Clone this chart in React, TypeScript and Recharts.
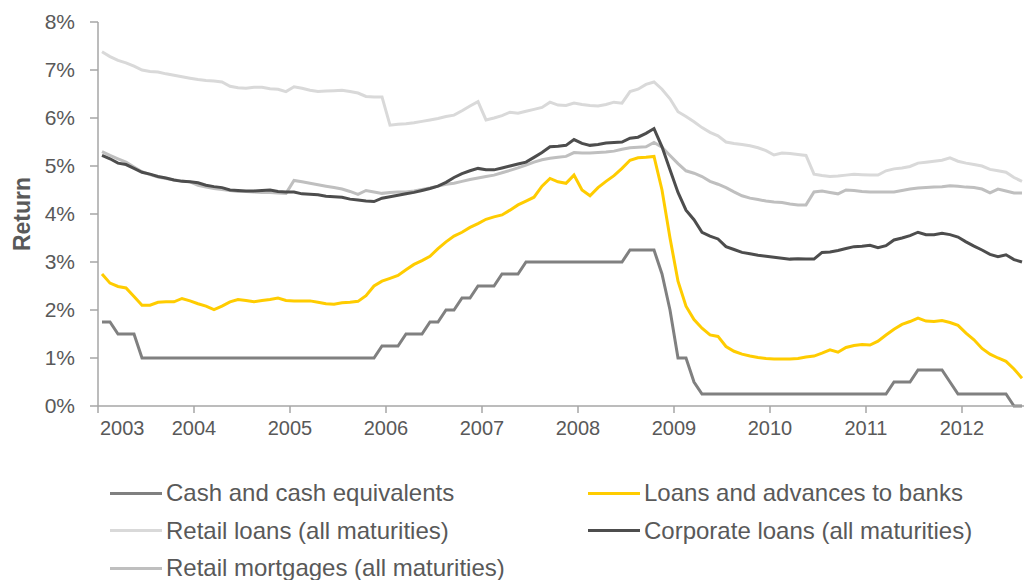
import React from 'react';
import { LineChart, Line, XAxis, YAxis, Legend } from 'recharts';

const FONT = '"Liberation Sans", Arial, sans-serif';
const TEXT = '#595959';
const AXIS = '#A6A6A6';

const years = ['2003', '2004', '2005', '2006', '2007', '2008', '2009', '2010', '2011', '2012'];
const yTicks = [0, 1, 2, 3, 4, 5, 6, 7, 8];

// Monthly returns (%), Jan 2003 - Aug 2012
const cash = [
  1.75, 1.75, 1.5, 1.5, 1.5, 1, 1, 1, 1, 1, 1, 1,
  1, 1, 1, 1, 1, 1, 1, 1, 1, 1, 1, 1,
  1, 1, 1, 1, 1, 1, 1, 1, 1, 1, 1, 1.25,
  1.25, 1.25, 1.5, 1.5, 1.5, 1.75, 1.75, 2, 2, 2.25, 2.25, 2.5,
  2.5, 2.5, 2.75, 2.75, 2.75, 3, 3, 3, 3, 3, 3, 3,
  3, 3, 3, 3, 3, 3, 3.25, 3.25, 3.25, 3.25, 2.75, 2,
  1, 1, 0.5, 0.25, 0.25, 0.25, 0.25, 0.25, 0.25, 0.25, 0.25, 0.25,
  0.25, 0.25, 0.25, 0.25, 0.25, 0.25, 0.25, 0.25, 0.25, 0.25, 0.25, 0.25,
  0.25, 0.25, 0.25, 0.5, 0.5, 0.5, 0.75, 0.75, 0.75, 0.75, 0.5, 0.25,
  0.25, 0.25, 0.25, 0.25, 0.25, 0.25, 0, 0,
];

const loansToBanks = [
  2.75, 2.56, 2.49, 2.46, 2.28, 2.1, 2.1, 2.16, 2.17, 2.17, 2.24, 2.19,
  2.13, 2.08, 2.01, 2.08, 2.17, 2.22, 2.2, 2.17, 2.2, 2.22, 2.25, 2.2,
  2.19, 2.19, 2.19, 2.16, 2.13, 2.12, 2.15, 2.16, 2.18, 2.3, 2.5, 2.6,
  2.66, 2.72, 2.84, 2.95, 3.03, 3.12, 3.28, 3.42, 3.54, 3.62, 3.72, 3.8,
  3.89, 3.94, 3.98, 4.08, 4.19, 4.27, 4.35, 4.58, 4.74, 4.67, 4.64, 4.81,
  4.5, 4.38, 4.55, 4.68, 4.8, 4.95, 5.12, 5.17, 5.18, 5.2, 4.5, 3.5,
  2.6, 2.08, 1.8, 1.62, 1.48, 1.45, 1.24, 1.14, 1.08, 1.04, 1.01, 0.99,
  0.98, 0.98, 0.98, 0.99, 1.02, 1.04, 1.1, 1.17, 1.12, 1.22, 1.26, 1.28,
  1.27, 1.35, 1.48, 1.6, 1.7, 1.76, 1.83, 1.77, 1.76, 1.78, 1.74, 1.68,
  1.52, 1.38, 1.2, 1.08, 1.0, 0.93, 0.77, 0.58,
];

const retailLoans = [
  7.38, 7.28, 7.2, 7.15, 7.08, 7.0, 6.97, 6.96, 6.92, 6.89, 6.86, 6.83,
  6.8, 6.78, 6.77, 6.75, 6.66, 6.63, 6.62, 6.64, 6.64, 6.61, 6.6, 6.55,
  6.65, 6.62, 6.58, 6.55, 6.56, 6.57, 6.58, 6.55, 6.52, 6.45, 6.44, 6.44,
  5.85, 5.87, 5.88, 5.9, 5.93, 5.96, 5.99, 6.03, 6.06, 6.15, 6.25, 6.34,
  5.96, 6.0, 6.05, 6.12, 6.1, 6.14, 6.18, 6.22, 6.33, 6.27, 6.26, 6.31,
  6.28, 6.26, 6.25, 6.28, 6.33, 6.31, 6.55, 6.6, 6.7, 6.75, 6.6, 6.4,
  6.13, 6.03, 5.92, 5.8, 5.7, 5.63, 5.5, 5.47, 5.45, 5.42, 5.38, 5.32,
  5.23, 5.27, 5.26, 5.24, 5.22, 4.83, 4.8, 4.78, 4.79, 4.81, 4.83, 4.82,
  4.81, 4.81, 4.9, 4.94, 4.96, 4.99, 5.06, 5.08, 5.1, 5.12, 5.17, 5.1,
  5.06, 5.03, 5.0, 4.93, 4.9, 4.87, 4.76, 4.68,
];

const corporateLoans = [
  5.22, 5.15, 5.06, 5.03, 4.95, 4.87, 4.83, 4.78, 4.75, 4.71, 4.68, 4.67,
  4.65, 4.6, 4.57, 4.55, 4.5, 4.49, 4.48, 4.48, 4.49, 4.5, 4.47, 4.46,
  4.46, 4.42, 4.41, 4.4, 4.37, 4.36, 4.35, 4.31, 4.29, 4.27, 4.26, 4.33,
  4.36, 4.39, 4.42, 4.45, 4.49, 4.53, 4.58, 4.66, 4.76, 4.84, 4.9, 4.95,
  4.92, 4.92, 4.96, 5.0, 5.04, 5.08, 5.18, 5.28, 5.4, 5.41, 5.43, 5.55,
  5.47, 5.43, 5.45, 5.48, 5.49, 5.5, 5.58, 5.6, 5.68, 5.78, 5.4, 4.92,
  4.45, 4.08, 3.88, 3.62, 3.54, 3.48, 3.32, 3.26, 3.2, 3.17, 3.14, 3.12,
  3.1, 3.08, 3.06, 3.07, 3.06, 3.06, 3.2, 3.21, 3.24, 3.28, 3.32, 3.33,
  3.35, 3.3, 3.34, 3.46, 3.5, 3.55, 3.62, 3.57, 3.57, 3.6, 3.57, 3.52,
  3.42, 3.33, 3.25, 3.16, 3.11, 3.15, 3.05, 3.0,
];

const retailMortgages = [
  5.3, 5.22, 5.15, 5.08, 4.98, 4.88, 4.82, 4.77, 4.74, 4.71, 4.69, 4.67,
  4.6, 4.56, 4.53, 4.51, 4.49, 4.47, 4.47, 4.46, 4.45, 4.45, 4.44, 4.43,
  4.7, 4.67, 4.64, 4.61, 4.58, 4.55, 4.52, 4.47, 4.41, 4.49, 4.46, 4.43,
  4.45, 4.46, 4.46, 4.48, 4.51, 4.54, 4.58, 4.62, 4.64, 4.68, 4.72, 4.75,
  4.78, 4.81, 4.86, 4.91, 4.96, 5.02, 5.08, 5.13, 5.16, 5.18, 5.2, 5.28,
  5.27, 5.27, 5.28, 5.29, 5.31, 5.35, 5.38, 5.39, 5.4, 5.49, 5.39, 5.22,
  5.05, 4.9, 4.85, 4.78, 4.68, 4.62, 4.55, 4.46, 4.38, 4.33, 4.3, 4.27,
  4.25, 4.24, 4.21, 4.19, 4.19, 4.46, 4.48, 4.45, 4.42, 4.5, 4.49, 4.47,
  4.46, 4.46, 4.46, 4.46, 4.49, 4.52, 4.54, 4.55, 4.56, 4.57, 4.59, 4.58,
  4.56, 4.55, 4.52, 4.44, 4.52, 4.48, 4.44, 4.44,
];

const legendSeries = [
  { key: 'cash', name: 'Cash and cash equivalents', color: '#808080' },
  { key: 'banks', name: 'Loans and advances to banks', color: '#FFCC00' },
  { key: 'retail', name: 'Retail loans (all maturities)', color: '#D9D9D9' },
  { key: 'corporate', name: 'Corporate loans (all maturities)', color: '#4D4D4D' },
  { key: 'mortgages', name: 'Retail mortgages (all maturities)', color: '#BFBFBF' },
];

const drawOrder = ['retail', 'mortgages', 'corporate', 'banks', 'cash'];

const data = cash.map((_, i) => ({
  m: i,
  cash: cash[i],
  banks: loansToBanks[i],
  retail: retailLoans[i],
  corporate: corporateLoans[i],
  mortgages: retailMortgages[i],
}));

const xTicks = years.map((_, k) => k * 12 - 0.5);

const XTick = (props: any) => {
  const { x, y, index } = props;
  const first = index === 0;
  return (
    <text
      x={first ? x + 2 : x}
      y={y}
      dy="0.71em"
      textAnchor={first ? 'start' : 'middle'}
      fill={TEXT}
      fontSize={20}
      fontFamily={FONT}
    >
      {years[index]}
    </text>
  );
};

const ReturnLabel = (props: any) => {
  const vb = props.viewBox || { x: 0, y: 22, width: 98, height: 384 };
  const cx = vb.x + 22;
  const cy = vb.y + vb.height / 2;
  return (
    <text
      x={cx}
      y={cy}
      transform={`rotate(-90 ${cx} ${cy})`}
      textAnchor="middle"
      dominantBaseline="central"
      fill={TEXT}
      fontSize={23}
      fontWeight="bold"
      fontFamily={FONT}
    >
      Return
    </text>
  );
};

const renderLegend = () => (
  <div style={{ position: 'relative', width: 1024, height: 110, fontFamily: FONT, fontSize: 24, color: TEXT }}>
    {legendSeries.map((s, k) => {
      const col = k % 2;
      const row = Math.floor(k / 2);
      return (
        <div
          key={s.key}
          style={{
            position: 'absolute',
            left: col ? 588 : 110,
            top: row * 37.5,
            height: 30,
            display: 'flex',
            alignItems: 'center',
            whiteSpace: 'nowrap',
          }}
        >
          <span style={{ display: 'inline-block', width: 52, height: 3, background: s.color, marginRight: 4 }} />
          <span>{s.name}</span>
        </div>
      );
    })}
  </div>
);

export default function App() {
  const byKey: Record<string, { name: string; color: string }> = {};
  legendSeries.forEach((s) => (byKey[s.key] = s));
  return (
    <div style={{ position: 'absolute', left: 0, top: 0, width: 1024, height: 580, background: '#fff', overflow: 'hidden' }}>
      <LineChart width={1024} height={580} data={data} margin={{ top: 22, right: 0, bottom: 134, left: 0 }}>
        <XAxis
          type="number"
          dataKey="m"
          domain={[-0.5, 115.25]}
          ticks={xTicks}
          interval={0}
          height={40}
          axisLine={{ stroke: AXIS, strokeWidth: 1.5 }}
          tickLine={{ stroke: AXIS, strokeWidth: 1.5 }}
          tickSize={7}
          tickMargin={8}
          tick={<XTick />}
          allowDataOverflow
        />
        <YAxis
          type="number"
          domain={[0, 8]}
          ticks={yTicks}
          interval={0}
          width={98}
          tickFormatter={(v: number) => `${v}%`}
          axisLine={{ stroke: AXIS, strokeWidth: 1.5 }}
          tickLine={{ stroke: AXIS, strokeWidth: 1.5 }}
          tickSize={8}
          tickMargin={15}
          tick={{ fill: TEXT, fontSize: 21, fontFamily: FONT }}
          label={{ content: ReturnLabel } as any}
        />
        <Legend
          layout="horizontal"
          verticalAlign="middle"
          align="center"
          content={renderLegend}
          wrapperStyle={{ top: 478, left: 0, width: 1024, height: 110 }}
        />
        {drawOrder.map((k) => (
          <Line
            key={k}
            type="linear"
            dataKey={k}
            name={byKey[k].name}
            stroke={byKey[k].color}
            strokeWidth={3}
            dot={false}
            activeDot={false}
            isAnimationActive={false}
          />
        ))}
      </LineChart>
    </div>
  );
}
